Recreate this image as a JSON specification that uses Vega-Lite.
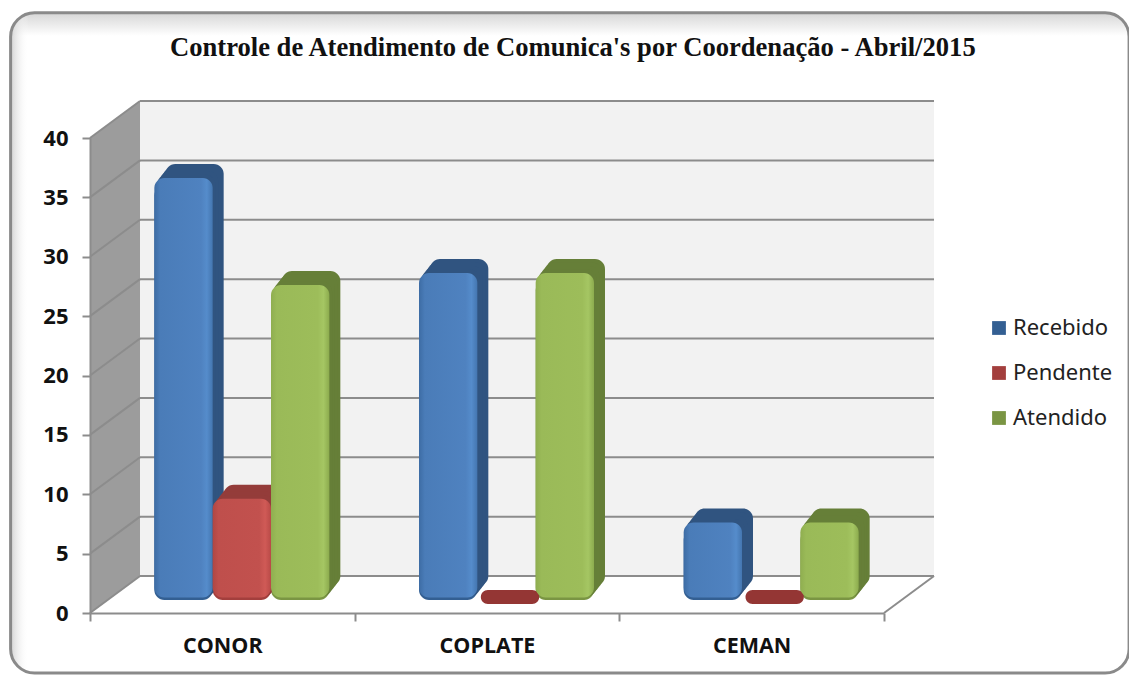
{
"$schema":"https://vega.github.io/schema/vega-lite/v6.json",
"width":794,"height":475,
"autosize":"none",
"padding":{"left":90,"top":138,"right":245,"bottom":62},
"background":"white",
"title":{"text":"Controle de Atendimento de Comunica's por Coordenação - Abril/2015","anchor":"start","frame":"group","dx":80,"offset":-50,"font":"Liberation Serif","fontSize":26.6,"fontWeight":"bold","color":"#111111"},
"datasets":{
"bars":[
{"coord":"CONOR","serie":"Recebido","valor":36},{"coord":"CONOR","serie":"Pendente","valor":9},{"coord":"CONOR","serie":"Atendido","valor":27},
{"coord":"COPLATE","serie":"Recebido","valor":28},{"coord":"COPLATE","serie":"Pendente","valor":0},{"coord":"COPLATE","serie":"Atendido","valor":28},
{"coord":"CEMAN","serie":"Recebido","valor":7},{"coord":"CEMAN","serie":"Pendente","valor":0},{"coord":"CEMAN","serie":"Atendido","valor":7}
],
"ticks":[{"tick":0},{"tick":5},{"tick":10},{"tick":15},{"tick":20},{"tick":25},{"tick":30},{"tick":35},{"tick":40}],
"frame":[{"left":-0.3,"right":3.926,"bottom":-5.05,"top":50.55}],
"sideWall":[{"pos":0,"low":0,"high":40},{"pos":0.189,"low":3.116,"high":43.116}]
},
"data":{"name":"bars"},
"resolve":{"scale":{"x":"independent"}},
"layer":[
{"data":{"name":"frame"},
 "mark":{"type":"rect","cornerRadius":24,"color":{"gradient":"linear","x1":0,"y1":0,"x2":0,"y2":1,"stops":[{"offset":0,"color":"#d6d6d6"},{"offset":0.035,"color":"#ffffff"},{"offset":1,"color":"#ffffff"}]}},
 "encoding":{"x":{"field":"left","type":"quantitative","scale":{"domain":[0,3],"nice":false,"zero":false},"axis":null},"x2":{"field":"right"},
 "y":{"field":"bottom","type":"quantitative","scale":{"domain":[0,40],"nice":false,"zero":false},"axis":{"values":[0,5,10,15,20,25,30,35,40],"title":null,"grid":false,"zindex":1,"domainColor":"#8c8c8c","domainWidth":2,"tickColor":"#8c8c8c","tickWidth":2,"tickSize":8,"labelFont":"Open Sans","labelFontSize":22,"labelFontWeight":"bold","labelColor":"#111111","labelPadding":14}},"y2":{"field":"top"}}},
{"data":{"name":"frame"},
 "mark":{"type":"rect","cornerRadius":24,"x2Offset":60,"color":{"gradient":"linear","x1":0,"y1":0,"x2":1,"y2":0,"stops":[{"offset":0,"color":"#d2d2d2"},{"offset":0.3,"color":"rgba(255,255,255,0)"},{"offset":1,"color":"rgba(255,255,255,0)"}]}},
 "encoding":{"x":{"field":"left","type":"quantitative","scale":{"domain":[0,3],"nice":false,"zero":false},"axis":null},"x2":{"field":"left"},"y":{"field":"bottom","type":"quantitative"},"y2":{"field":"top"}}},
{"data":{"name":"frame"},
 "mark":{"type":"rect","cornerRadius":24,"fill":null,"fillOpacity":0,"stroke":"#8a8a8a","strokeWidth":3},
 "encoding":{"x":{"field":"left","type":"quantitative","scale":{"domain":[0,3],"nice":false,"zero":false},"axis":null},"x2":{"field":"right"},"y":{"field":"bottom","type":"quantitative"},"y2":{"field":"top"}}},
{"data":{"name":"sideWall"},
 "mark":{"type":"area","color":"#9c9c9c"},
 "encoding":{"x":{"field":"pos","type":"quantitative","scale":{"domain":[0,3],"nice":false,"zero":false},"axis":null},"y":{"field":"low","type":"quantitative"},"y2":{"field":"high"}}},
{"data":{"name":"ticks"},"transform":[{"filter":"datum.tick==40"}],
 "mark":{"type":"rect","color":"#f2f2f2","xOffset":50,"x2Offset":50,"yOffset":-37,"y2Offset":-37},
 "encoding":{"x":{"datum":0,"type":"quantitative","scale":{"domain":[0,3],"nice":false,"zero":false},"axis":null},"x2":{"datum":3},"y":{"field":"tick","type":"quantitative"},"y2":{"datum":0}}},
{"data":{"name":"ticks"},
 "mark":{"type":"rule","color":"#8c8c8c","strokeWidth":2,"xOffset":50,"x2Offset":50,"yOffset":-37,"y2Offset":-37},
 "encoding":{"x":{"datum":0,"type":"quantitative","scale":{"domain":[0,3],"nice":false,"zero":false},"axis":null},"x2":{"datum":3},"y":{"field":"tick","type":"quantitative"}}},
{"data":{"name":"ticks"},"transform":[{"calculate":"datum.tick+3.116","as":"wallTop"}],
 "mark":{"type":"rule","color":"#8c8c8c","strokeWidth":2},
 "encoding":{"x":{"datum":0,"type":"quantitative","scale":{"domain":[0,3],"nice":false,"zero":false},"axis":null},"x2":{"datum":0.189},"y":{"field":"tick","type":"quantitative"},"y2":{"field":"wallTop"}}},
{"data":{"name":"ticks"},"transform":[{"filter":"datum.tick==0"},{"calculate":"datum.tick+3.116","as":"wallTop"}],
 "mark":{"type":"rule","color":"#8c8c8c","strokeWidth":2},
 "encoding":{"x":{"datum":3,"type":"quantitative","scale":{"domain":[0,3],"nice":false,"zero":false},"axis":null},"x2":{"datum":3.189},"y":{"field":"tick","type":"quantitative"},"y2":{"field":"wallTop"}}},
{"encoding":{
  "x":{"field":"coord","type":"nominal","sort":["CONOR","COPLATE","CEMAN"],"scale":{"paddingInner":0,"paddingOuter":0},"axis":{"title":null,"labelAngle":0,"zindex":1,"tickBand":"extent","domainColor":"#8c8c8c","domainWidth":2,"tickColor":"#8c8c8c","tickWidth":2,"tickSize":8,"labelFont":"Open Sans","labelFontSize":21.5,"labelFontWeight":"bold","labelColor":"#111111","labelPadding":14}},
  "y":{"field":"valor","type":"quantitative","stack":null},
  "y2":{"datum":0}
 },
 "resolve":{"scale":{"xOffset":"independent"}},
 "layer":[
 {"transform":[{"filter":"datum.valor>0"}],
  "mark":{"type":"bar","cornerRadius":10,"yOffset":0,"y2Offset":-13},
  "encoding":{"xOffset":{"field":"serie","type":"nominal","scale":{"domain":["Recebido","Pendente","Atendido"],"range":[19.5,284.17],"paddingInner":0,"paddingOuter":0.7686}},
   "color":{"field":"serie","type":"nominal","sort":["Recebido","Pendente","Atendido"],"scale":{"domain":["Recebido","Pendente","Atendido"],"range":["#335f92","#a33f3d","#7a9543"]},
   "legend":{"title":null,"orient":"none","legendX":898,"legendY":179,"symbolType":"square","symbolSize":190,"symbolStrokeWidth":0,"labelFont":"Noto Sans","labelFontSize":22,"labelColor":"#222222","rowPadding":23,"labelOffset":3}}}},

 {"transform":[{"filter":"datum.serie=='Recebido' && datum.valor>0"}],"mark":{"type":"bar","color":"#305480","cornerRadius":10,"yOffset":-21.5,"y2Offset":-27},
  "encoding":{"xOffset":{"field":"serie","type":"nominal","scale":{"domain":["Recebido","Pendente","Atendido"],"range":[30.5,295.17],"paddingInner":0,"paddingOuter":0.7686}}}},
 {"transform":[{"filter":"datum.serie=='Recebido' && datum.valor>0"}],"mark":{"type":"bar","color":"#305480","cornerRadius":10,"yOffset":-18,"y2Offset":-23.5},
  "encoding":{"xOffset":{"field":"serie","type":"nominal","scale":{"domain":["Recebido","Pendente","Atendido"],"range":[27.75,292.42],"paddingInner":0,"paddingOuter":0.7686}}}},
 {"transform":[{"filter":"datum.serie=='Recebido' && datum.valor>0"}],"mark":{"type":"bar","color":"#305480","cornerRadius":10,"yOffset":-14.5,"y2Offset":-20},
  "encoding":{"xOffset":{"field":"serie","type":"nominal","scale":{"domain":["Recebido","Pendente","Atendido"],"range":[25,289.67],"paddingInner":0,"paddingOuter":0.7686}}}},
 {"transform":[{"filter":"datum.serie=='Recebido' && datum.valor>0"}],"mark":{"type":"bar","color":"#305480","cornerRadius":10,"yOffset":-11,"y2Offset":-16.5},
  "encoding":{"xOffset":{"field":"serie","type":"nominal","scale":{"domain":["Recebido","Pendente","Atendido"],"range":[22.25,286.92],"paddingInner":0,"paddingOuter":0.7686}}}},
 {"transform":[{"filter":"datum.serie=='Recebido' && datum.valor>0"}],"mark":{"type":"bar","cornerRadius":10,"yOffset":-7.5,"y2Offset":-15.5,
   "color":{"gradient":"linear","x1":0,"y1":0,"x2":1,"y2":0,"stops":[{"offset":0,"color":"#3d6ca4"},{"offset":0.1,"color":"#4a7cb8"},{"offset":0.8,"color":"#4f82c0"},{"offset":0.9,"color":"#558ccb"},{"offset":1,"color":"#4476b0"}]}},
  "encoding":{"xOffset":{"field":"serie","type":"nominal","scale":{"domain":["Recebido","Pendente","Atendido"],"range":[19.5,284.17],"paddingInner":0,"paddingOuter":0.7686}}}},

 {"transform":[{"filter":"datum.serie=='Pendente' && datum.valor>0"}],"mark":{"type":"bar","color":"#943c3a","cornerRadius":10,"yOffset":-21.5,"y2Offset":-27},
  "encoding":{"xOffset":{"field":"serie","type":"nominal","scale":{"domain":["Recebido","Pendente","Atendido"],"range":[30.5,295.17],"paddingInner":0,"paddingOuter":0.7686}}}},
 {"transform":[{"filter":"datum.serie=='Pendente' && datum.valor>0"}],"mark":{"type":"bar","color":"#943c3a","cornerRadius":10,"yOffset":-18,"y2Offset":-23.5},
  "encoding":{"xOffset":{"field":"serie","type":"nominal","scale":{"domain":["Recebido","Pendente","Atendido"],"range":[27.75,292.42],"paddingInner":0,"paddingOuter":0.7686}}}},
 {"transform":[{"filter":"datum.serie=='Pendente' && datum.valor>0"}],"mark":{"type":"bar","color":"#943c3a","cornerRadius":10,"yOffset":-14.5,"y2Offset":-20},
  "encoding":{"xOffset":{"field":"serie","type":"nominal","scale":{"domain":["Recebido","Pendente","Atendido"],"range":[25,289.67],"paddingInner":0,"paddingOuter":0.7686}}}},
 {"transform":[{"filter":"datum.serie=='Pendente' && datum.valor>0"}],"mark":{"type":"bar","color":"#943c3a","cornerRadius":10,"yOffset":-11,"y2Offset":-16.5},
  "encoding":{"xOffset":{"field":"serie","type":"nominal","scale":{"domain":["Recebido","Pendente","Atendido"],"range":[22.25,286.92],"paddingInner":0,"paddingOuter":0.7686}}}},
 {"transform":[{"filter":"datum.serie=='Pendente' && datum.valor>0"}],"mark":{"type":"bar","cornerRadius":10,"yOffset":-7.5,"y2Offset":-15.5,
   "color":{"gradient":"linear","x1":0,"y1":0,"x2":1,"y2":0,"stops":[{"offset":0,"color":"#b04643"},{"offset":0.1,"color":"#bf4f4c"},{"offset":0.8,"color":"#c2514e"},{"offset":0.9,"color":"#d05a56"},{"offset":1,"color":"#b84a47"}]}},
  "encoding":{"xOffset":{"field":"serie","type":"nominal","scale":{"domain":["Recebido","Pendente","Atendido"],"range":[19.5,284.17],"paddingInner":0,"paddingOuter":0.7686}}}},
 {"transform":[{"filter":"datum.serie=='Pendente' && datum.valor==0"}],"mark":{"type":"bar","color":"#943634","cornerRadius":7,"yOffset":-23,"y2Offset":-9},
  "encoding":{"xOffset":{"field":"serie","type":"nominal","scale":{"domain":["Recebido","Pendente","Atendido"],"range":[23,287.67],"paddingInner":0,"paddingOuter":0.7686}}}},

 {"transform":[{"filter":"datum.serie=='Atendido' && datum.valor>0"}],"mark":{"type":"bar","color":"#667f38","cornerRadius":10,"yOffset":-21.5,"y2Offset":-27},
  "encoding":{"xOffset":{"field":"serie","type":"nominal","scale":{"domain":["Recebido","Pendente","Atendido"],"range":[30.5,295.17],"paddingInner":0,"paddingOuter":0.7686}}}},
 {"transform":[{"filter":"datum.serie=='Atendido' && datum.valor>0"}],"mark":{"type":"bar","color":"#667f38","cornerRadius":10,"yOffset":-18,"y2Offset":-23.5},
  "encoding":{"xOffset":{"field":"serie","type":"nominal","scale":{"domain":["Recebido","Pendente","Atendido"],"range":[27.75,292.42],"paddingInner":0,"paddingOuter":0.7686}}}},
 {"transform":[{"filter":"datum.serie=='Atendido' && datum.valor>0"}],"mark":{"type":"bar","color":"#667f38","cornerRadius":10,"yOffset":-14.5,"y2Offset":-20},
  "encoding":{"xOffset":{"field":"serie","type":"nominal","scale":{"domain":["Recebido","Pendente","Atendido"],"range":[25,289.67],"paddingInner":0,"paddingOuter":0.7686}}}},
 {"transform":[{"filter":"datum.serie=='Atendido' && datum.valor>0"}],"mark":{"type":"bar","color":"#667f38","cornerRadius":10,"yOffset":-11,"y2Offset":-16.5},
  "encoding":{"xOffset":{"field":"serie","type":"nominal","scale":{"domain":["Recebido","Pendente","Atendido"],"range":[22.25,286.92],"paddingInner":0,"paddingOuter":0.7686}}}},
 {"transform":[{"filter":"datum.serie=='Atendido' && datum.valor>0"}],"mark":{"type":"bar","cornerRadius":10,"yOffset":-7.5,"y2Offset":-15.5,
   "color":{"gradient":"linear","x1":0,"y1":0,"x2":1,"y2":0,"stops":[{"offset":0,"color":"#8fae50"},{"offset":0.1,"color":"#9aba58"},{"offset":0.8,"color":"#9dbd5a"},{"offset":0.9,"color":"#a5c663"},{"offset":1,"color":"#8cab4e"}]}},
  "encoding":{"xOffset":{"field":"serie","type":"nominal","scale":{"domain":["Recebido","Pendente","Atendido"],"range":[19.5,284.17],"paddingInner":0,"paddingOuter":0.7686}}}}
 ]}
],
"config":{"view":{"stroke":null}}
}
